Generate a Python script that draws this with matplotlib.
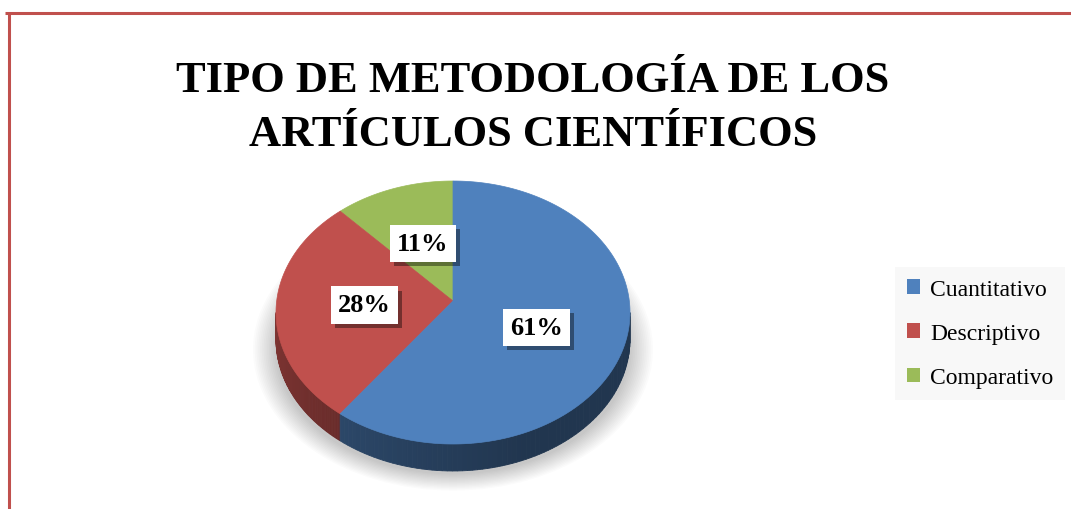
import numpy as np
import matplotlib
matplotlib.use("Agg")
import matplotlib.pyplot as plt
from matplotlib.patches import Polygon, Ellipse, Patch
from matplotlib.colors import to_rgb
import matplotlib.patheffects as pe

# ---- data ----
categories = ["Cuantitativo", "Descriptivo", "Comparativo"]
values = [61, 28, 11]
labels = ["61%", "28%", "11%"]
colors = ["#4F81BD", "#C0504D", "#9BBB59"]
title = "TIPO DE METODOLOGÍA DE LOS\nARTÍCULOS CIENTÍFICOS"

W, H = 1071, 510
fig = plt.figure(figsize=(W / 100, H / 100), dpi=100)
ax = fig.add_axes([0, 0, 1, 1])
ax.set_xlim(0, W)
ax.set_ylim(H, 0)
ax.axis("off")

# border
ax.plot([5, W], [14, 14], color="#C0504D", lw=2.2, solid_capstyle="butt")
ax.plot([9, 9], [14, H], color="#C0504D", lw=2.2, solid_capstyle="butt")

# title
ax.text(533, 108, title, ha="center", va="center", fontsize=32,
        fontweight="bold", family="Liberation Serif", linespacing=1.42)

# pie geometry (ellipse centre, apex slightly higher for perspective)
cx, cy, rx, ry, depth = 453, 313.5, 177, 131.5, 27
apx, apy = 453, 302

def ell(th):
    t = np.radians(th)
    return cx + rx * np.cos(t), cy - ry * np.sin(t)

# shadow halo
for i in range(14):
    s = 1 + i * 0.01
    ax.add_patch(Ellipse((cx, cy + depth + 10), 2 * rx * s, 2 * ry * s * 0.95,
                         facecolor="#000000", alpha=0.016, edgecolor="none", zorder=1))

# wedge angles: start at 90 deg, counterclockwise, last category first
order = [2, 1, 0]
start = 90.0
angles = {}
for i in order:
    span = values[i] / sum(values) * 360
    angles[i] = (start, start + span)
    start += span

# side walls
for i in order:
    a, b = angles[i]
    for off in (0, 360):
        lo = max(a, 180 + off)
        hi = min(b, 360 + off)
        if hi <= lo:
            continue
        base = np.array(to_rgb(colors[i]))
        ths = np.linspace(lo, hi, 80)
        for t1, t2 in zip(ths[:-1], ths[1:]):
            x1, y1 = ell(t1)
            x2, y2 = ell(t2)
            tm = ((t1 + t2) / 2 - off - 180) / 180
            f = 0.66 - 0.24 * min(1.0, tm * 1.6)
            col = np.clip(base * f, 0, 1)
            ax.add_patch(Polygon([(x1, y1), (x2, y2), (x2, y2 + depth), (x1, y1 + depth)],
                                 closed=True, facecolor=col, edgecolor=col, lw=0.6, zorder=2))

# top faces
for i in order:
    a, b = angles[i]
    ths = np.linspace(a, b, 200)
    pts = [(apx, apy)] + [ell(t) for t in ths]
    ax.add_patch(Polygon(pts, closed=True, facecolor=colors[i], edgecolor=colors[i],
                         lw=0.5, zorder=3))

# labels
for i in order:
    a, b = angles[i]
    m = np.radians((a + b) / 2)
    r = 0.5
    x = apx + rx * r * np.cos(m)
    y = apy - ry * r * np.sin(m) + 4
    t = ax.text(x, y, labels[i], ha="center", va="center", fontsize=19, fontweight="bold",
                family="Liberation Serif", zorder=6,
                bbox=dict(boxstyle="square,pad=0.27", facecolor="white", edgecolor="none"))
    t.get_bbox_patch().set_path_effects([
        pe.SimplePatchShadow(offset=(3, -3), shadow_rgbFace="black", alpha=0.4), pe.Normal()])

# legend
handles = [Patch(facecolor=c, edgecolor="none") for c in colors]
leg = ax.legend(handles, categories, loc="upper left", bbox_to_anchor=(895 / W, 1 - 268 / H),
                frameon=True, fancybox=False, prop={"family": "Liberation Serif", "size": 17},
                handlelength=0.55, handleheight=0.55, handletextpad=0.45, labelspacing=0.98,
                borderpad=0.5, borderaxespad=0)
leg.get_frame().set_facecolor("#F7F7F7")
leg.get_frame().set_edgecolor("none")

fig.savefig("out.png", dpi=100)
